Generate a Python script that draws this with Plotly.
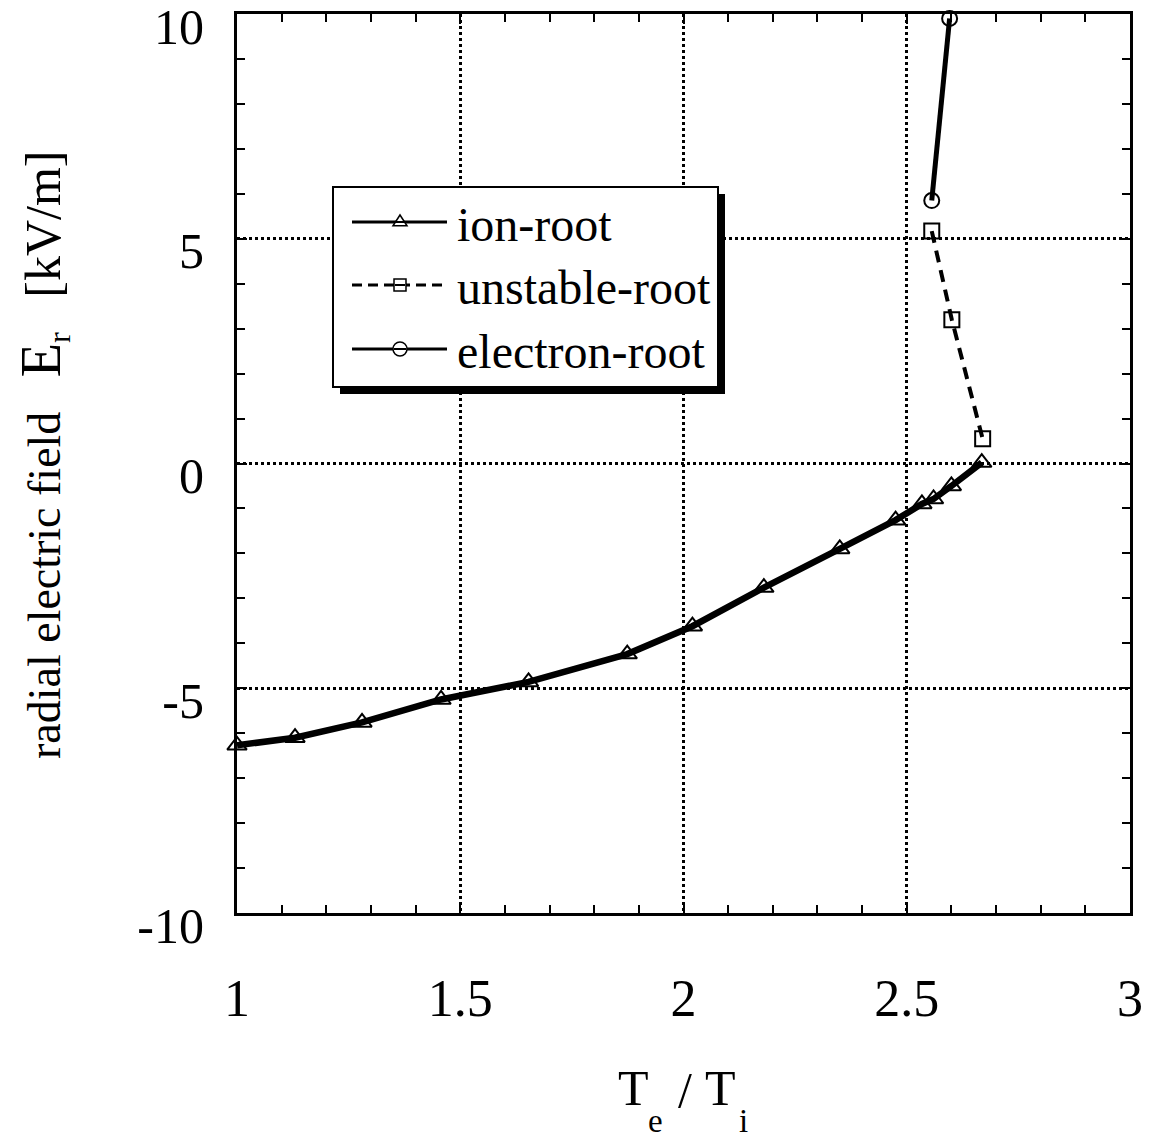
import plotly.graph_objects as go

# Radial electric field E_r [kV/m] versus temperature ratio T_e / T_i
ion_ratio = [1.0, 1.13, 1.28, 1.457, 1.653, 1.874, 2.02, 2.18, 2.35, 2.475, 2.534, 2.56, 2.60, 2.668]
ion_er = [-6.27, -6.10, -5.76, -5.25, -4.86, -4.24, -3.62, -2.76, -1.90, -1.26, -0.90, -0.79, -0.50, 0.02]

unstable_ratio = [2.556, 2.601, 2.670]
unstable_er = [5.17, 3.20, 0.55]

electron_ratio = [2.556, 2.596]
electron_er = [5.85, 9.9]

series_names = ["ion-root", "unstable-root", "electron-root"]

x_tick_vals = [1, 1.5, 2, 2.5, 3]
x_tick_text = ["1", "1.5", "2", "2.5", "3"]
y_tick_vals = [-10, -5, 0, 5, 10]
y_tick_text = ["-10", "-5", "0", "5", "10"]

FONT = "Liberation Serif"
W, H = 1153, 1139
ML, MR, MT, MB = 237, 23, 14, 226
PW, PH = W - ML - MR, H - MT - MB


def fx(px):
    """pixel column -> paper x"""
    return (px - ML) / PW


def fy(py):
    """pixel row -> paper y"""
    return (H - MB - py) / PH


fig = go.Figure()

fig.add_trace(go.Scatter(
    x=ion_ratio, y=ion_er, name=series_names[0], mode="lines+markers",
    line=dict(color="black", width=6.5),
    marker=dict(symbol="triangle-up-open", size=17, color="black", line=dict(width=2, color="black")),
    cliponaxis=False,
))
fig.add_trace(go.Scatter(
    x=unstable_ratio, y=unstable_er, name=series_names[1], mode="lines+markers",
    line=dict(color="black", width=4, dash="12px,8px"),
    marker=dict(symbol="square-open", size=15, color="black", line=dict(width=2, color="black")),
    cliponaxis=False,
))
fig.add_trace(go.Scatter(
    x=electron_ratio, y=electron_er, name=series_names[2], mode="lines+markers",
    line=dict(color="black", width=5),
    marker=dict(symbol="circle-open", size=15, color="black", line=dict(width=2, color="black")),
    cliponaxis=False,
))

axis_common = dict(
    showline=True, linecolor="black", linewidth=3, mirror="ticks",
    ticks="inside", ticklen=10, tickwidth=2, tickcolor="black",
    showgrid=True, gridcolor="black", gridwidth=2.5, griddash="dot",
    zeroline=False, automargin=False,
    ticklabeloverflow="allow",
)

fig.update_xaxes(
    range=[1, 3], tickvals=x_tick_vals, ticktext=x_tick_text,
    minor=dict(dtick=0.1, ticks="inside", ticklen=8, tickwidth=2, tickcolor="black", showgrid=False),
    ticklabelstandoff=38,
    tickfont=dict(family=FONT, size=52, color="black"),
    **axis_common,
)
fig.update_yaxes(
    range=[-10, 10], tickvals=y_tick_vals, ticktext=y_tick_text,
    minor=dict(dtick=1, ticks="inside", ticklen=8, tickwidth=2, tickcolor="black", showgrid=False),
    ticklabelstandoff=20, ticklabelshift=12,
    tickfont=dict(family=FONT, size=50, color="black"),
    **axis_common,
)

# hand-drawn legend box with drop shadow
shapes = [
    dict(type="rect", xref="paper", yref="paper",
         x0=fx(340), x1=fx(725), y0=fy(394), y1=fy(194),
         fillcolor="black", line=dict(width=0), layer="above"),
    dict(type="rect", xref="paper", yref="paper",
         x0=fx(333), x1=fx(718), y0=fy(387), y1=fy(187),
         fillcolor="white", line=dict(width=2, color="black"), layer="above"),
]
annotations = []

rows = [222, 285, 349]
dashes = ["solid", "10px,6px", "solid"]
for name, row, dash in zip(series_names, rows, dashes):
    shapes.append(dict(type="line", xref="paper", yref="paper",
                       x0=fx(352), x1=fx(447), y0=fy(row), y1=fy(row),
                       line=dict(color="black", width=3, dash=dash), layer="above"))
    annotations.append(dict(text=name, xref="paper", yref="paper",
                            x=fx(455), y=fy(row + 2), xanchor="left", yanchor="middle",
                            showarrow=False, font=dict(family=FONT, size=48, color="black")))

# legend marker glyphs
mx, r = 400, 7
tri = (f"M{fx(mx - r)},{fy(rows[0] + r * 0.55)} L{fx(mx + r)},{fy(rows[0] + r * 0.55)} "
       f"L{fx(mx)},{fy(rows[0] - r)} Z")
shapes.append(dict(type="path", xref="paper", yref="paper", path=tri,
                   fillcolor="white", line=dict(color="black", width=1.5), layer="above"))
shapes.append(dict(type="line", xref="paper", yref="paper",
                   x0=fx(mx - r + 1), x1=fx(mx + r - 1), y0=fy(rows[0]), y1=fy(rows[0]),
                   line=dict(color="black", width=2), layer="above"))
shapes.append(dict(type="rect", xref="paper", yref="paper",
                   x0=fx(mx - 6), x1=fx(mx + 6), y0=fy(rows[1] + 6), y1=fy(rows[1] - 6),
                   fillcolor="white", line=dict(color="black", width=1.5), layer="above"))
shapes.append(dict(type="line", xref="paper", yref="paper",
                   x0=fx(mx - 5), x1=fx(mx + 5), y0=fy(rows[1]), y1=fy(rows[1]),
                   line=dict(color="black", width=2), layer="above"))
shapes.append(dict(type="circle", xref="paper", yref="paper",
                   x0=fx(mx - 7), x1=fx(mx + 7), y0=fy(rows[2] + 7), y1=fy(rows[2] - 7),
                   fillcolor="white", line=dict(color="black", width=1.5), layer="above"))
shapes.append(dict(type="line", xref="paper", yref="paper",
                   x0=fx(mx - 6), x1=fx(mx + 6), y0=fy(rows[2]), y1=fy(rows[2]),
                   line=dict(color="black", width=2), layer="above"))

# axis titles
nb = "\u00a0"
y_title = ("radial electric field" + nb * 3
           + '<span style="font-size:56px">E</span><sub>r</sub>' + nb * 3
           + '<span style="font-size:50px">[kV/m]</span>')
annotations.append(dict(
    text=y_title,
    xref="paper", yref="paper", x=fx(43), y=fy(455), textangle=-90,
    xanchor="center", yanchor="middle", showarrow=False,
    font=dict(family=FONT, size=46, color="black"),
))
for txt, cx, cy, size in [("T", 633, 1088, 50), ("e", 655, 1121, 33), ("/", 685, 1090, 50),
                          ("T", 720, 1088, 50), ("i", 743, 1121, 33)]:
    annotations.append(dict(text=txt, xref="paper", yref="paper", x=fx(cx), y=fy(cy),
                            xanchor="center", yanchor="middle", showarrow=False,
                            font=dict(family=FONT, size=size, color="black")))

fig.update_layout(
    width=W, height=H,
    margin=dict(l=ML, r=MR, t=MT, b=MB, autoexpand=False),
    paper_bgcolor="white", plot_bgcolor="white",
    showlegend=False,
    shapes=shapes, annotations=annotations,
    font=dict(family=FONT, color="black"),
)

fig.write_html("out.html")
